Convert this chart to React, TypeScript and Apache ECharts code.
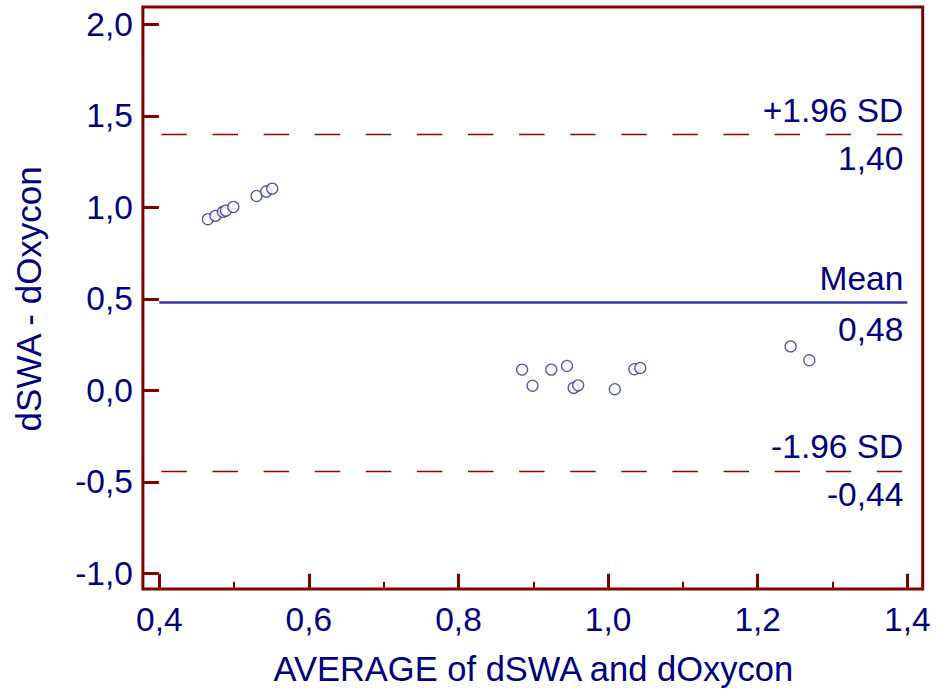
import React, { useEffect, useRef } from "react";
import * as echarts from "echarts";

// Bland–Altman plot: dSWA vs dOxycon
const averages = [
  0.465, 0.475, 0.485, 0.489, 0.499, 0.530, 0.543, 0.551,
  0.885, 0.899, 0.924, 0.945, 0.954, 0.960, 1.009, 1.035, 1.043,
  1.244, 1.269,
];
const differences = [
  0.935, 0.953, 0.975, 0.982, 1.002, 1.062, 1.086, 1.102,
  0.113, 0.025, 0.113, 0.133, 0.013, 0.027, 0.006, 0.115, 0.122,
  0.240, 0.164,
];
const meanDifference = 0.48;
const upperLimit = 1.4;
const lowerLimit = -0.44;
const upperLabel = "+1.96 SD";
const lowerLabel = "-1.96 SD";
const meanLabel = "Mean";
const xTitle = "AVERAGE of dSWA and dOxycon";
const yTitle = "dSWA - dOxycon";

const NAVY = "#000080";
const MAROON = "#800000";
const FONT = "'Liberation Sans', Arial, sans-serif";

// inner plotting rectangle; the frame sits 16px outside it
const G = { left: 159.3, top: 24.3, width: 748, height: 549 };
const PAD = 16.4;

const comma = (v: number, d: number) => v.toFixed(d).replace(".", ",");

export default function App() {
  const ref = useRef<HTMLDivElement>(null);

  useEffect(() => {
    if (!ref.current) return;
    const chart = echarts.init(ref.current, undefined, { renderer: "svg" });

    const dashed = {
      color: "#990000",
      width: 1.4,
      type: [25.5, 25.6] as any,
      dashOffset: 48.7,
    };
    const labelBase = {
      show: true,
      color: NAVY,
      fontSize: 33.5,
      fontFamily: FONT,
      distance: [4, 7] as any,
    };
    // second line at each level only carries the value label below it
    const invisible = { color: "rgba(0,0,0,0)", width: 1, type: "solid" as const };

    chart.setOption({
      animation: false,
      backgroundColor: "#ffffff",
      grid: {
        left: G.left,
        top: G.top,
        width: G.width,
        height: G.height,
        containLabel: false,
      },
      graphic: [
        {
          type: "rect",
          z: 10,
          silent: true,
          shape: {
            x: G.left - PAD,
            y: G.top - PAD - 1,
            width: G.width + 2 * PAD - 1,
            height: G.height + 2 * PAD + 0.4,
          },
          style: { fill: "none", stroke: MAROON, lineWidth: 3 },
        },
      ],
      xAxis: {
        type: "value",
        min: 0.4,
        max: 1.4,
        interval: 0.2,
        offset: PAD,
        splitLine: { show: false },
        axisLine: { show: false, onZero: false },
        axisTick: {
          show: true,
          inside: true,
          length: 16,
          lineStyle: { color: MAROON, width: 3 },
        },
        minorTick: {
          show: true,
          splitNumber: 2,
          length: 8,
          lineStyle: { color: MAROON, width: 2 },
        },
        axisLabel: {
          margin: 13,
          color: NAVY,
          fontSize: 33.5,
          fontFamily: FONT,
          formatter: (v: number) => comma(v, 1),
        },
        name: xTitle,
        nameLocation: "middle",
        nameGap: 62,
        nameTextStyle: { color: NAVY, fontSize: 34.5, fontFamily: FONT },
      },
      yAxis: {
        type: "value",
        min: -1,
        max: 2,
        interval: 0.5,
        offset: PAD,
        splitLine: { show: false },
        axisLine: { show: false, onZero: false },
        axisTick: {
          show: true,
          inside: true,
          length: 16,
          lineStyle: { color: MAROON, width: 3 },
        },
        axisLabel: {
          margin: 10,
          color: NAVY,
          fontSize: 33.5,
          fontFamily: FONT,
          formatter: (v: number) => comma(v, 1),
        },
        name: yTitle,
        nameLocation: "middle",
        nameGap: 97,
        nameTextStyle: { color: NAVY, fontSize: 35, fontFamily: FONT },
      },
      series: [
        {
          type: "scatter",
          data: averages.map((x, i) => [x, differences[i]]),
          symbol: "circle",
          symbolSize: 11,
          itemStyle: { color: "#ffffff", borderColor: "#2a2a9c", borderWidth: 1.3 },
          z: 5,
          markLine: {
            silent: true,
            symbol: "none",
            precision: 2,
            data: [
              {
                yAxis: meanDifference,
                lineStyle: { color: "#3434a4", width: 2.7, type: "solid" },
                label: { ...labelBase, position: "insideEndTop", formatter: meanLabel },
              },
              {
                yAxis: meanDifference,
                lineStyle: invisible,
                label: {
                  ...labelBase,
                  distance: [4, 10],
                  position: "insideEndBottom",
                  formatter: comma(meanDifference, 2),
                },
              },
              {
                yAxis: upperLimit,
                lineStyle: dashed,
                label: { ...labelBase, position: "insideEndTop", formatter: upperLabel },
              },
              {
                yAxis: upperLimit,
                lineStyle: invisible,
                label: { ...labelBase, position: "insideEndBottom", formatter: comma(upperLimit, 2) },
              },
              {
                yAxis: lowerLimit,
                lineStyle: dashed,
                label: { ...labelBase, position: "insideEndTop", formatter: lowerLabel },
              },
              {
                yAxis: lowerLimit,
                lineStyle: invisible,
                label: { ...labelBase, position: "insideEndBottom", formatter: comma(lowerLimit, 2) },
              },
            ],
          },
        },
      ],
    });

    return () => chart.dispose();
  }, []);

  return (
    <div
      ref={ref}
      style={{ position: "absolute", left: 0, top: 0, width: 940, height: 696 }}
    />
  );
}
